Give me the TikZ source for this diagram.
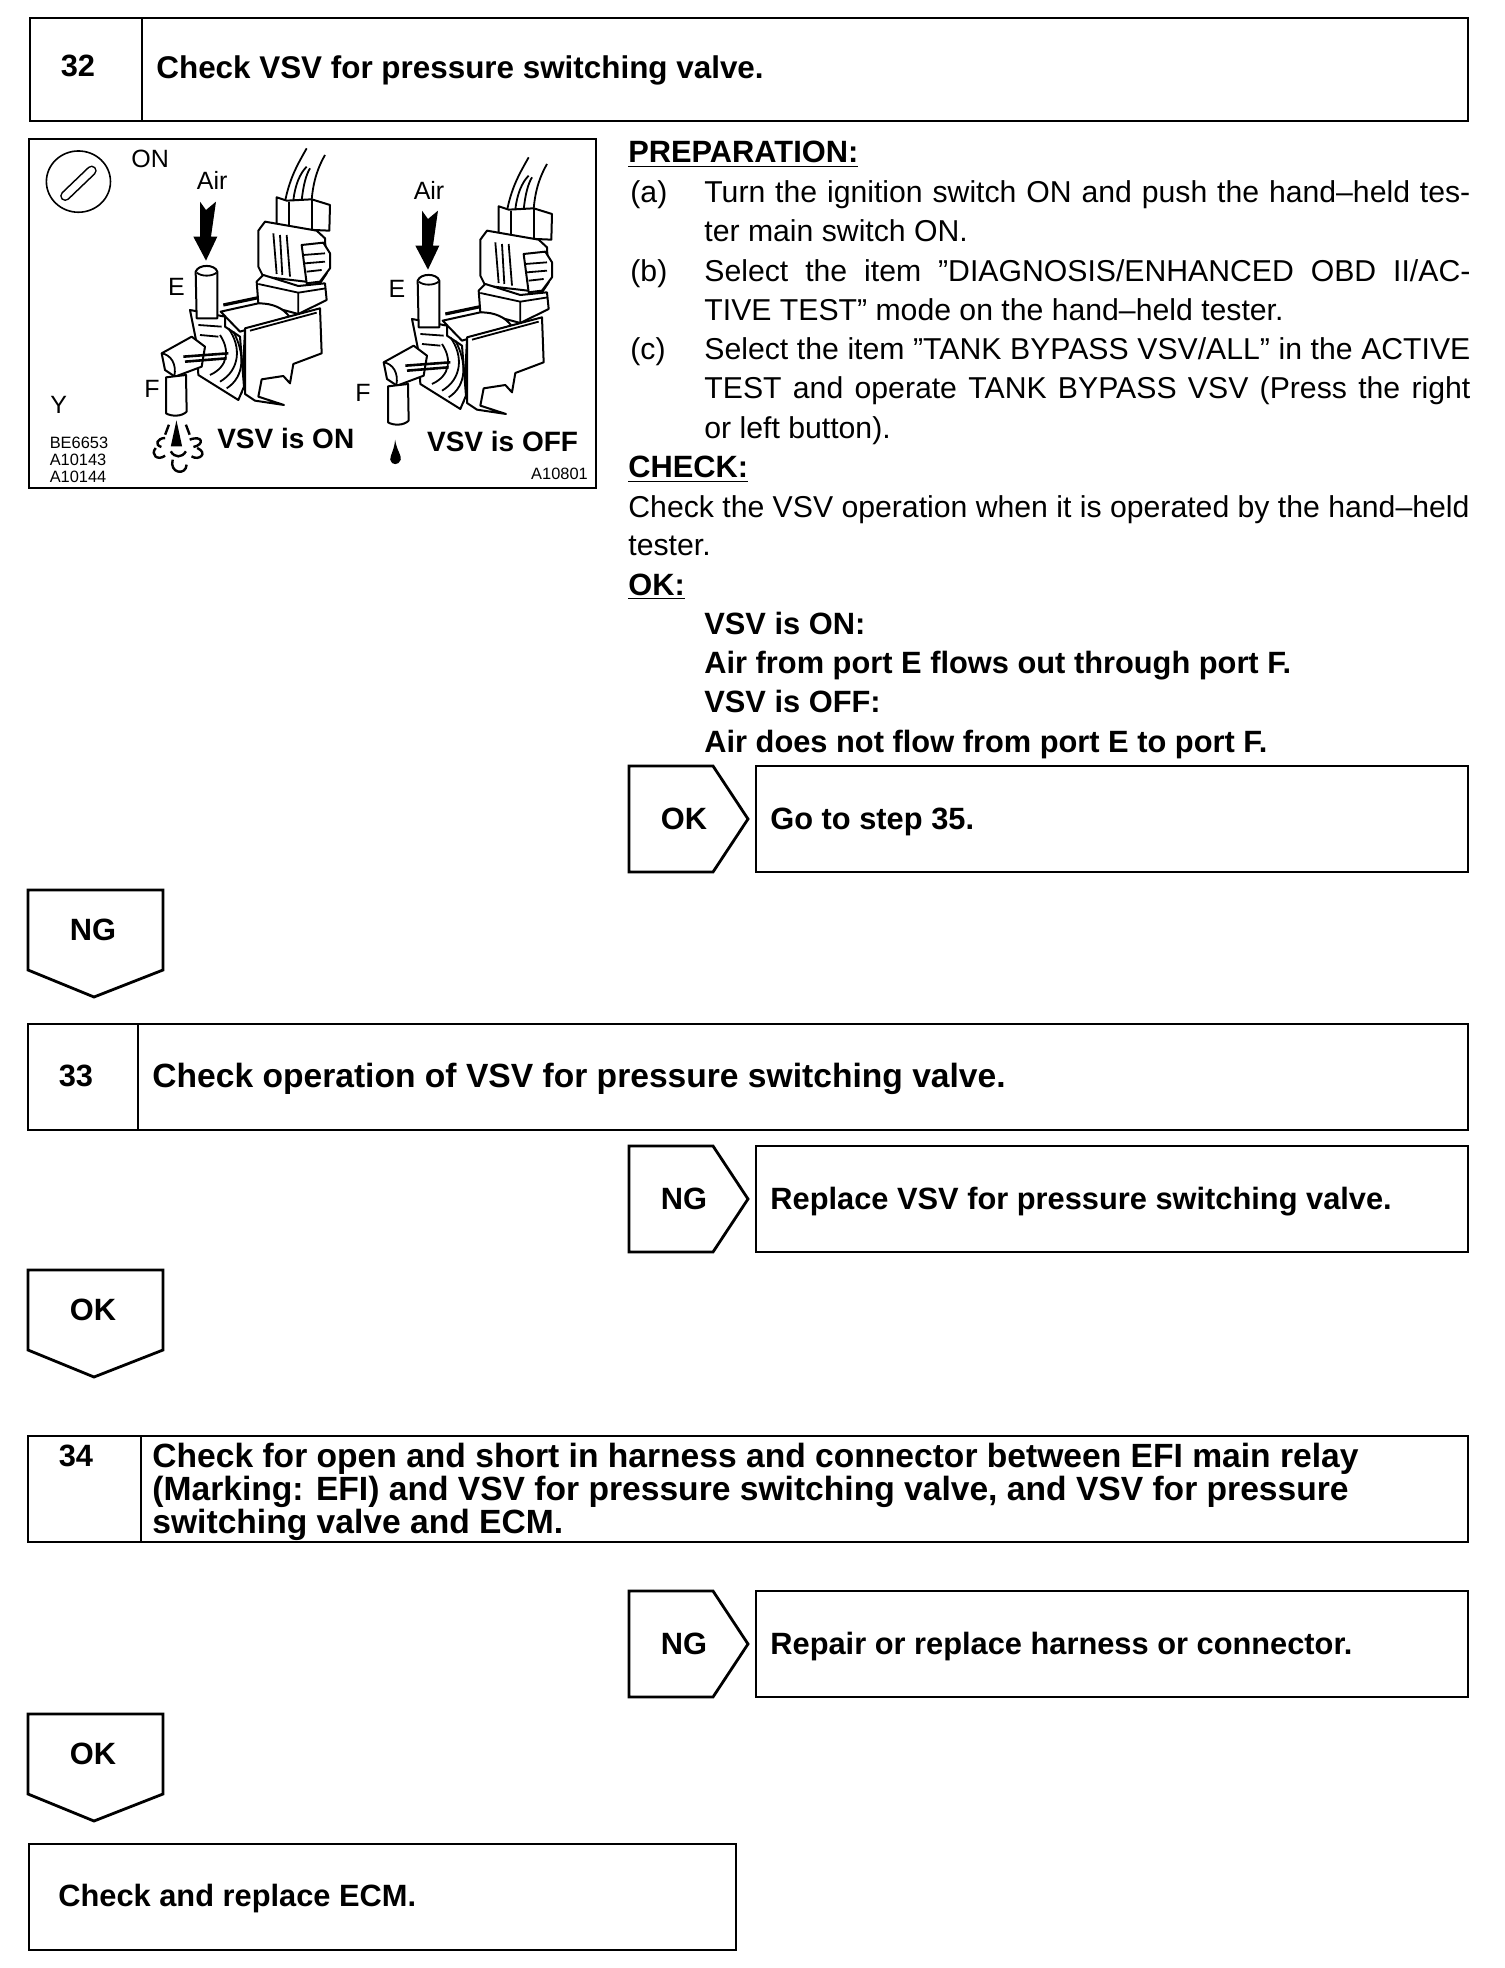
\documentclass[tikz,border=0pt]{standalone}
\usepackage{fontspec}
\setmainfont{Liberation Sans}
\newcommand{\bodyfont}{\fontsize{15.1}{18}\selectfont}
\newcommand{\headfont}{\fontsize{15.4}{18}\selectfont\bfseries}
\newcommand{\titlefont}{\fontsize{16.8}{18}\selectfont\bfseries}
\newcommand{\spreadline}[1]{\makebox[383pt][s]{#1}}
\tikzset{
	frameline/.style={line width=1.4pt,line join=miter},
	partline/.style={line width=1pt,fill=white,line join=round},
	thinpart/.style={line width=0.9pt},
	puffline/.style={line width=1.2pt},
	bodytext/.style={anchor=base west,inner sep=0pt,font=\bodyfont},
	boldtext/.style={anchor=base west,inner sep=0pt,font=\headfont},
	titletext/.style={anchor=base west,inner sep=0pt,font=\titlefont},
	tagtext/.style={inner sep=0pt,font=\headfont},
	picttext/.style={inner sep=0pt,font=\fontsize{12.5}{14}\selectfont},
	pictbold/.style={inner sep=0pt,font=\fontsize{14}{16}\selectfont\bfseries},
	pictcode/.style={anchor=base west,inner sep=0pt,font=\fontsize{8.2}{10}\selectfont}
}
\begin{document}
\begin{tikzpicture}[x=0.5pt,y=-0.5pt]
	\useasboundingbox (0,0) rectangle (1504,1968);
	
	% step 32 header
	\draw[frameline] (30,18) rectangle (1468,121);
	\draw[frameline] (142,18) -- (142,121);
	\node[tagtext] (numA) at (78,66) {32};
	\node[boldtext,font=\fontsize{15.7}{18}\selectfont\bfseries] (titleA) at (156,79) {Check VSV for pressure switching valve.};
	
	% picture frame
	\draw[frameline] (29,139) rectangle (596,488);
	
	% the two valves, coordinates as read from the crop
	\foreach \vx/\vy in {0/0,666/27} {
		\begin{scope}[shift={(130,140)},scale=1/3]
			\begin{scope}[shift={(\vx,\vy)}]
				% wires
				\draw[thinpart] (465,185) .. controls (480,110) and (505,70) .. (530,25);
				\draw[thinpart] (545,180) .. controls (550,120) and (565,80) .. (585,45);
				\draw[thinpart] (490,182) .. controls (495,135) and (510,100) .. (530,80);
				\draw[thinpart] (515,182) .. controls (520,135) and (528,105) .. (540,85);
				% plug
				\draw[partline] (440,172) -- (470,182) -- (545,178) -- (600,195) -- (598,272) -- (440,265) -- cycle;
				\draw[thinpart] (478,185) -- (478,265) (545,180) -- (545,268);
				\draw[partline] (385,272) -- (405,245) -- (560,272) -- (585,295) -- (590,400) -- (570,430) -- (400,410) -- (385,380) -- cycle;
				\draw[thinpart] (430,280) -- (440,402) (450,285) -- (457,405) (470,285) -- (480,410);
				\draw[partline] (515,315) -- (580,308) -- (600,340) -- (600,385) -- (570,425) -- (530,430) -- cycle;
				\draw[thinpart] (520,345) -- (585,340) (525,370) -- (585,365) (530,395) -- (575,390);
				% socket
				\draw[partline] (380,425) -- (400,405) -- (505,438) -- (585,430) -- (590,480) -- (505,522) -- (385,490) -- cycle;
				\draw[thinpart] (385,432) -- (505,458) -- (588,445) (505,458) -- (505,522);
				% coil tube
				\draw[partline] (272,515) -- (385,490) .. controls (430,490) and (460,505) .. (478,530) -- (330,575) -- cycle;
				\draw[line width=1.6pt] (280,495) -- (385,473);
				% case
				\draw[partline] (345,565) -- (570,505) -- (575,640) -- (490,672) -- (480,730) -- (460,708) -- (395,718) -- (385,770) -- (462,795) -- (375,782) -- (345,762) -- cycle;
				\draw[thinpart] (360,572) -- (560,518);
				\draw[thinpart] (345,565) -- (335,760);
				% clamp and coil end
				\draw[partline] (180,510) -- (285,530) -- (285,560) -- (330,590) -- (342,740) -- (325,780) -- (205,705) -- (200,610) -- cycle;
				\draw[thinpart] (295,565) .. controls (335,620) and (330,690) .. (270,725);
				\draw[thinpart] (310,575) .. controls (345,640) and (345,710) .. (290,745);
				\draw[thinpart] (270,585) .. controls (300,630) and (295,680) .. (240,705);
				\draw[thinpart] (205,555) -- (275,560) (210,585) -- (265,590);
				% port E
				\draw[partline] (197,395) .. controls (205,372) and (255,372) .. (262,395) -- (262,535) -- (200,535) -- cycle;
				\draw[thinpart] (200,398) .. controls (215,410) and (245,410) .. (260,398);
				% port F
				\draw[partline] (95,640) -- (185,590) -- (225,620) -- (215,680) -- (135,710) -- (105,690) -- cycle;
				\draw[thinpart] (95,640) .. controls (125,645) and (140,675) .. (133,708);
				\draw[line width=1.3pt] (160,650) -- (295,640) (165,665) -- (290,655);
				\draw[partline] (108,712) -- (168,705) -- (170,815) .. controls (155,830) and (125,830) .. (108,820) -- cycle;
				% arrow
				\fill (210,185) -- (228,210) -- (258,185) -- (243,290) -- (262,290) -- (228,362) -- (190,290) -- (210,290) -- cycle;
			\end{scope}
		\end{scope}
	}
	
	% labels of the picture and small marks
	\begin{scope}[shift={(20,130)},xscale=0.377,yscale=0.333]
		% key symbol
		\draw[line width=0.8pt] (155,155) ellipse (85 and 92);
		\draw[line width=0.8pt,double=white,double distance=3.5pt,line cap=round] (120,198) -- (190,122);
		\node[picttext] (on) at (345,88) {ON};
		\node[picttext] (codeY) at (103,825) {Y};
		\node[pictcode] (codeA) at (78,955) {BE6653};
		\node[pictcode] (codeB) at (78,1007) {A10143};
		\node[pictcode] (codeC) at (78,1059) {A10144};
		\node[pictcode] (codeD) at (1355,1050) {A10801};
		
		% valve labels
		\node[picttext] (airA) at (510,150) {Air};
		\node[picttext] (airB) at (1085,182) {Air};
		\node[picttext] (portEa) at (415,470) {E};
		\node[picttext] (portEb) at (1000,477) {E};
		\node[picttext] (portFa) at (350,778) {F};
		\node[picttext] (portFb) at (910,790) {F};
		\node[pictbold] (vsvOn) at (705,926) {VSV is ON};
		\node[pictbold] (vsvOff) at (1280,935) {VSV is OFF};
		
		% air coming out of port F
		\fill (415,872) -- (430,950) -- (400,950) -- cycle;
		\draw[puffline] (395,885) -- (385,915) (440,885) -- (450,915);
		\draw[puffline] (385,925) .. controls (365,925) and (355,945) .. (375,952);
		\draw[puffline] (450,930) .. controls (485,915) and (490,945) .. (460,952);
		\draw[puffline] (360,955) .. controls (345,975) and (365,995) .. (385,978);
		\draw[puffline] (470,955) .. controls (500,970) and (475,995) .. (455,980);
		\draw[puffline] (405,990) .. controls (395,1030) and (440,1040) .. (442,1005);
		\draw[puffline] (400,965) .. controls (410,985) and (430,985) .. (440,965);
		
		% drop below port F
		\fill (995,930) .. controls (1000,965) and (1012,975) .. (1010,990) .. controls (1005,1008) and (985,1008) .. (982,990) .. controls (982,975) and (992,965) .. (995,930);
	\end{scope}
	
	% preparation text
	\node[boldtext] (prep) at (628,163) {\underline{PREPARATION:}};
	\node[bodytext] (itemA) at (630,203) {(a)};
	\node[bodytext] (lineA) at (704,203) {\spreadline{Turn the ignition switch ON and push the hand–held tes-}};
	\node[bodytext] (lineB) at (704,242) {ter main switch ON.};
	\node[bodytext] (itemB) at (630,282) {(b)};
	\node[bodytext] (lineC) at (704,282) {\spreadline{Select the item ”DIAGNOSIS/ENHANCED OBD II/AC-}};
	\node[bodytext] (lineD) at (704,321) {TIVE TEST” mode on the hand–held tester.};
	\node[bodytext] (itemC) at (630,360) {(c)};
	\node[bodytext] (lineE) at (704,360) {\spreadline{Select the item ”TANK BYPASS VSV/ALL” in the ACTIVE}};
	\node[bodytext] (lineF) at (704,399) {\spreadline{TEST and operate TANK BYPASS VSV (Press the right}};
	\node[bodytext] (lineG) at (704,438) {or left button).};
	
	% check text
	\node[boldtext] (check) at (628,478) {\underline{CHECK:}};
	\node[bodytext] (lineH) at (628,517) {Check the VSV operation when it is operated by the hand–held};
	\node[bodytext] (lineI) at (628,555) {tester.};
	\node[boldtext] (okHead) at (628,595) {\underline{OK:}};
	\node[boldtext] (okA) at (704,634) {VSV is ON:};
	\node[boldtext] (okB) at (704,673) {Air from port E flows out through port F.};
	\node[boldtext] (okC) at (704,712) {VSV is OFF:};
	\node[boldtext] (okD) at (704,752) {Air does not flow from port E to port F.};
	
	% result rows on the right
	\foreach \rowy/\rowtag/\rowtext/\rowid in {766/OK/Go to step 35./A,1146/NG/Replace VSV for pressure switching valve./B,1591/NG/Repair or replace harness or connector./C} {
		\draw[frameline] (629,\rowy) -- (713,\rowy) -- (748,\rowy+53) -- (713,\rowy+106) -- (629,\rowy+106) -- cycle;
		\draw[frameline] (756,\rowy) rectangle (1468,\rowy+106);
		\node[tagtext] (tag\rowid) at (684,\rowy+53) {\rowtag};
		\node[boldtext] (result\rowid) at (770,\rowy+63) {\rowtext};
	}
	
	% tags pointing down on the left
	\foreach \taby/\tabtag/\tabid in {890/NG/A,1270/OK/B,1714/OK/C} {
		\draw[frameline] (28,\taby) -- (163,\taby) -- (163,\taby+80) -- (94,\taby+107) -- (28,\taby+80) -- cycle;
		\node[tagtext] (tab\tabid) at (93,\taby+40) {\tabtag};
	}
	
	% step 33 header
	\draw[frameline] (28,1024) rectangle (1468,1130);
	\draw[frameline] (138,1024) -- (138,1130);
	\node[tagtext] (numB) at (76,1076) {33};
	\node[titletext] (titleB) at (152,1087) {Check operation of VSV for pressure switching valve.};
	
	% step 34 header
	\draw[frameline] (28,1436) rectangle (1468,1542);
	\draw[frameline] (141,1436) -- (141,1542);
	\node[tagtext] (numC) at (76,1456) {34};
	\node[titletext] (titleC) at (152,1467) {Check for open and short in harness and connector between EFI main relay};
	\node[titletext] (titleD) at (152,1500) {(Marking: EFI) and VSV for pressure switching valve, and VSV for pressure};
	\node[titletext] (titleE) at (152,1533) {switching valve and ECM.};
	
	% last box
	\draw[frameline] (29,1844) rectangle (736,1950);
	\node[boldtext] (last) at (58,1906) {Check and replace ECM.};
\end{tikzpicture}
\end{document}
